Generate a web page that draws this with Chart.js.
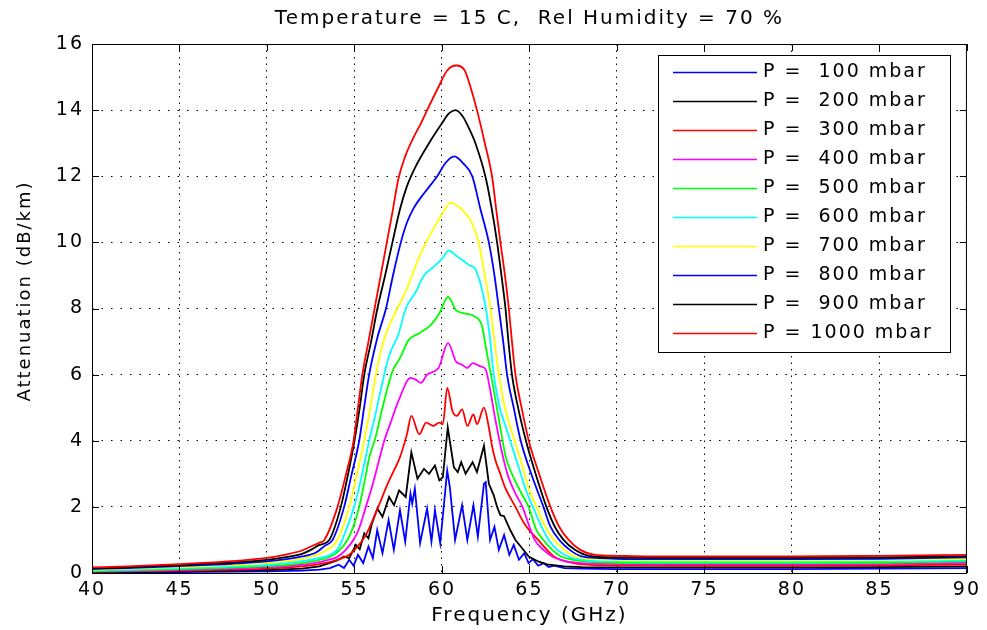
<!DOCTYPE html>
<html>
<head>
<meta charset="utf-8">
<script src="https://cdn.jsdelivr.net/npm/chart.js@4.4.1/dist/chart.umd.min.js"></script>
<style>
  html, body { margin: 0; padding: 0; background: #fff; }
</style>
</head>
<body>
<canvas id="attChart" width="987" height="630"></canvas>
<script>
// 标题与坐标轴文字
const chartTitle = 'Temperature = 15 C,  Rel Humidity = 70 %';
const xTitle = 'Frequency (GHz)';
const yTitle = 'Attenuation (dB/km)';

// 图例文字与颜色 (MATLAB 默认顺序)
const seriesLabels = ['P =  100 mbar', 'P =  200 mbar', 'P =  300 mbar', 'P =  400 mbar', 'P =  500 mbar',
                      'P =  600 mbar', 'P =  700 mbar', 'P =  800 mbar', 'P =  900 mbar', 'P = 1000 mbar'];
const seriesColors = ['#0000ff', '#000000', '#ff0000', '#ff00ff', '#00ff00',
                      '#00ffff', '#ffff00', '#0000ff', '#000000', '#ff0000'];

// 数据: [频率 GHz, 衰减 dB/km]
const p100 = [[40,0.02],[45,0.03],[50,0.05],[52,0.07],[53,0.1],[53.6,0.15],[54.1,0.25],[54.4,0.15],[54.7,0.4],[54.95,0.22],
  [55.2,0.55],[55.5,0.3],[55.8,0.8],[56.05,0.45],[56.3,1.3],[56.6,0.6],[56.95,1.6],[57.25,0.7],[57.6,1.9],[57.9,0.95],
  [58.2,2.4],[58.3,2.1],[58.45,2.55],[58.75,0.9],[59.15,1.95],[59.4,0.95],[59.6,1.9],[59.9,0.9],[60.3,3.1],[60.45,2.6],
  [60.75,1.0],[61.15,2.05],[61.45,1.0],[61.8,2.05],[62.05,1.1],[62.4,2.7],[62.5,2.75],[62.75,1.0],[63.0,1.4],[63.25,0.7],
  [63.55,1.15],[63.85,0.55],[64.1,0.85],[64.4,0.4],[64.7,0.6],[64.95,0.3],[65.2,0.42],[65.5,0.22],[65.8,0.3],[66.1,0.18],
  [66.4,0.22],[67,0.15],[68,0.13],[70,0.12],[75,0.12],[80,0.12],[85,0.13],[90,0.15]];
const p200 = [[40,0.03],[45,0.05],[48,0.07],[50,0.09],[52,0.13],[53,0.2],[53.56,0.3],[54,0.38],[54.4,0.5],[54.7,0.45],
  [55.08,0.85],[55.3,0.72],[55.56,1.2],[55.8,1.05],[56.0,1.5],[56.31,1.95],[56.6,1.7],[56.98,2.3],[57.26,2.05],[57.55,2.5],
  [57.93,2.3],[58.25,3.65],[58.6,2.85],[58.97,3.15],[59.26,3.0],[59.6,3.25],[59.85,2.8],[60.05,2.9],[60.33,4.4],[60.68,3.2],
  [60.9,3.05],[61.1,3.35],[61.35,3.0],[61.75,3.35],[62.0,3.05],[62.4,3.85],[62.68,2.7],[62.96,2.35],[63.15,2.0],[63.34,1.75],
  [63.55,1.72],[63.9,1.3],[64.2,1.0],[64.5,0.8],[64.96,0.5],[65.5,0.35],[66,0.26],[67,0.2],[68,0.18],[70,0.17],
  [75,0.17],[80,0.17],[85,0.18],[90,0.2]];
const p300 = [[40,0.04],[45,0.07],[48,0.1],[50,0.13],[51,0.16],[52,0.2],[53,0.27],[53.8,0.36],[54.3,0.45],[54.7,0.55],
  [55.1,0.75],[55.65,1.15],[56.0,1.55],[56.4,2.05],[56.9,2.7],[57.3,3.15],[57.6,3.5],[58.0,4.2],[58.25,4.75],[58.7,4.2],
  [59.1,4.55],[59.5,4.45],[59.85,4.55],[60.05,4.5],[60.3,5.6],[60.6,4.9],[60.85,4.75],[61.15,4.95],[61.45,4.45],[61.8,4.8],
  [62.0,4.5],[62.4,5.0],[62.68,4.4],[62.86,3.85],[63.06,3.4],[63.3,3.05],[63.6,2.6],[64.2,2.0],[64.7,1.5],[65.5,1.0],
  [66.4,0.5],[67.5,0.3],[68,0.26],[70,0.23],[75,0.22],[80,0.22],[85,0.23],[90,0.26]];
const p400 = [[40,0.05],[42,0.06],[45,0.09],[48,0.13],[50,0.17],[51,0.2],[52,0.25],[53,0.33],[53.5,0.4],[54,0.48],
  [54.5,0.7],[55,1.05],[55.3,1.4],[55.65,2.0],[56,2.6],[56.4,3.4],[56.7,4.0],[57,4.45],[57.55,5.25],[58.2,5.9],
  [58.5,5.85],[58.8,5.75],[59.15,6.0],[59.8,6.2],[60.35,6.95],[60.8,6.4],[61.15,6.3],[61.45,6.2],[61.75,6.35],[62.2,6.25],
  [62.5,6.15],[62.75,5.55],[63.05,4.65],[63.45,3.6],[63.8,2.9],[64.2,2.4],[64.6,2.0],[65,1.4],[65.3,1.0],[65.8,0.7],
  [66.3,0.5],[67,0.37],[68,0.3],[70,0.27],[72,0.26],[75,0.26],[80,0.26],[85,0.27],[90,0.31]];
const p500 = [[40,0.06],[42,0.08],[45,0.12],[48,0.16],[50,0.21],[51,0.24],[52,0.3],[53,0.4],[53.5,0.47],[54,0.62],
  [54.6,1.0],[55,1.5],[55.27,2.0],[55.55,2.7],[55.85,3.5],[56.2,4.1],[56.6,5.0],[57.17,6.1],[57.6,6.5],[58.1,7.05],
  [58.7,7.25],[59.35,7.5],[59.85,7.85],[60.35,8.35],[60.8,7.95],[61.3,7.85],[61.9,7.75],[62.3,7.45],[62.5,6.85],[62.85,5.85],
  [63.25,4.65],[63.65,3.5],[64,3.0],[64.5,2.45],[64.95,2.0],[65.4,1.3],[65.8,1.0],[66.3,0.7],[66.8,0.5],[67.5,0.4],
  [68,0.36],[70,0.31],[72,0.3],[75,0.3],[80,0.3],[85,0.31],[90,0.35]];
const p600 = [[40,0.08],[42,0.1],[45,0.15],[48,0.2],[50,0.25],[51,0.29],[52,0.36],[53,0.46],[53.5,0.52],[54,0.7],
  [54.3,1.0],[54.98,2.0],[55.4,2.9],[55.84,4.0],[56.2,4.8],[56.7,6.0],[57,6.6],[57.5,7.2],[57.93,8.0],[58.5,8.5],
  [58.97,9.0],[59.5,9.25],[60,9.5],[60.4,9.75],[60.8,9.6],[61.2,9.45],[61.6,9.3],[61.9,9.2],[62.4,8.3],[62.7,7.3],
  [62.96,6.0],[63.3,5.0],[63.6,4.5],[63.9,4.0],[64.5,3.0],[64.8,2.5],[65.2,2.0],[65.6,1.5],[66.1,1.0],[66.6,0.7],
  [67.2,0.5],[68,0.4],[70,0.35],[72,0.34],[75,0.34],[80,0.34],[85,0.35],[90,0.39]];
const p700 = [[40,0.1],[42,0.13],[45,0.18],[48,0.24],[50,0.3],[51,0.35],[52,0.43],[52.5,0.5],[53,0.58],[53.5,0.72],
  [54.03,1.0],[54.7,2.0],[55.1,2.9],[55.56,4.0],[55.9,5.0],[56.22,6.0],[56.6,6.9],[57,7.5],[57.45,8.0],[58,8.6],
  [58.5,9.3],[59,9.9],[59.5,10.4],[60,10.85],[60.5,11.2],[60.9,11.1],[61.3,10.9],[61.7,10.6],[62.1,10.0],[62.45,9.0],
  [62.77,8.0],[63.0,7.0],[63.25,6.0],[63.6,5.0],[64.15,4.0],[64.5,3.4],[65.0,2.5],[65.4,2.0],[65.9,1.4],[66.4,1.0],
  [67,0.7],[67.6,0.5],[68.5,0.43],[70,0.39],[72,0.38],[75,0.38],[80,0.38],[85,0.39],[90,0.43]];
const p800 = [[40,0.12],[42,0.15],[45,0.21],[48,0.28],[50,0.35],[51,0.41],[52,0.5],[52.8,0.62],[53.3,0.82],[53.75,1.0],
  [54.41,2.0],[54.8,2.9],[55.27,4.0],[55.55,5.0],[55.84,6.0],[56.3,7.1],[56.8,8.0],[57.2,9.0],[57.65,10.0],[58.0,10.6],
  [58.4,11.05],[59,11.5],[59.73,12.0],[60.2,12.4],[60.7,12.6],[61.2,12.4],[61.73,12.0],[62.2,11.0],[62.68,10.0],[63.0,9.0],
  [63.25,8.0],[63.5,7.0],[63.72,6.0],[64.1,5.0],[64.5,4.0],[65.1,3.0],[65.8,2.0],[66.2,1.4],[66.7,1.0],[67.3,0.7],
  [68,0.5],[69,0.45],[70,0.43],[72,0.42],[75,0.42],[80,0.42],[85,0.43],[90,0.47]];
const p900 = [[40,0.14],[42,0.17],[45,0.24],[48,0.32],[50,0.4],[51,0.47],[52,0.58],[52.51,0.7],[53,0.85],[53.56,1.0],
  [54.22,2.0],[54.6,2.9],[55.0,4.0],[55.3,5.0],[55.56,6.0],[55.95,7.0],[56.31,8.0],[56.75,9.0],[57.17,10.0],[57.6,11.0],
  [58.0,11.7],[58.5,12.3],[59.26,13.0],[60,13.6],[60.4,13.9],[60.78,14.0],[61.2,13.8],[61.5,13.5],[61.91,13.0],[62.48,12.0],
  [62.85,11.0],[63.15,10.0],[63.4,9.0],[63.63,8.0],[63.8,7.0],[64.0,6.0],[64.35,5.0],[64.8,4.0],[65.35,3.0],[65.97,2.0],
  [66.45,1.4],[66.95,1.0],[67.6,0.7],[68.4,0.52],[70,0.47],[72,0.46],[75,0.46],[80,0.46],[85,0.47],[90,0.51]];
const p1000 = [[40,0.17],[42,0.2],[45,0.27],[48,0.36],[50,0.46],[51,0.55],[52,0.68],[52.5,0.8],[53,0.92],[53.28,1.0],
  [54.03,2.0],[54.5,2.95],[54.95,4.0],[55.2,5.0],[55.45,6.0],[55.8,7.0],[56.15,8.0],[56.5,9.0],[56.85,10.0],[57.2,11.0],
  [57.5,11.9],[57.9,12.6],[58.4,13.2],[58.8,13.6],[59.2,14.05],[59.8,14.7],[60.3,15.2],[60.82,15.35],[61.3,15.2],[61.6,14.75],
  [62.0,14.0],[62.45,13.0],[62.86,12.0],[63.1,11.0],[63.34,10.0],[63.6,9.0],[63.82,8.0],[64.0,7.0],[64.2,6.0],[64.55,5.0],
  [64.96,4.0],[65.55,3.0],[66.2,2.0],[66.7,1.4],[67.24,1.0],[67.9,0.7],[68.75,0.55],[70,0.52],[72,0.5],[75,0.5],
  [80,0.5],[85,0.52],[90,0.55]];

const allSeries = [p100, p200, p300, p400, p500, p600, p700, p800, p900, p1000];

const fontFamily = '"DejaVu Sans", sans-serif';
const spacing = '2px';

// 边框、内刻度、纵轴标题和图例
const framePlugin = {
    id: 'framePlugin',
    beforeLayout(chart) { chart.ctx.letterSpacing = spacing; },
    beforeDraw(chart) { chart.ctx.letterSpacing = spacing; },
    afterDraw(chart) {
        const { ctx, chartArea: a, scales } = chart;
        ctx.save();
        ctx.strokeStyle = '#000';
        ctx.lineWidth = 1;
        ctx.strokeRect(a.left + 0.5, a.top + 0.5, a.right - a.left - 1, a.bottom - a.top);

        // 内侧刻度
        const t = 7;
        ctx.beginPath();
        scales.x.ticks.forEach(tk => {
            const px = Math.round(scales.x.getPixelForValue(tk.value)) + 0.5;
            ctx.moveTo(px, a.bottom); ctx.lineTo(px, a.bottom - t);
            ctx.moveTo(px, a.top); ctx.lineTo(px, a.top + t);
        });
        scales.y.ticks.forEach(tk => {
            const py = Math.round(scales.y.getPixelForValue(tk.value)) + 0.5;
            ctx.moveTo(a.left, py); ctx.lineTo(a.left + t, py);
            ctx.moveTo(a.right, py); ctx.lineTo(a.right - t, py);
        });
        ctx.stroke();

        // 纵轴标题
        ctx.save();
        ctx.translate(25, 291);
        ctx.rotate(-Math.PI / 2);
        ctx.font = '18px ' + fontFamily;
        ctx.fillStyle = '#000';
        ctx.textAlign = 'center';
        ctx.textBaseline = 'middle';
        ctx.fillText(yTitle, 0, 0);
        ctx.restore();

        // 图例
        const box = { left: 658, top: 55, width: 292, height: 297 };
        ctx.fillStyle = '#fff';
        ctx.fillRect(box.left, box.top, box.width, box.height);
        ctx.strokeRect(box.left + 0.5, box.top + 0.5, box.width, box.height);
        ctx.font = '19px ' + fontFamily;
        ctx.textBaseline = 'middle';
        ctx.textAlign = 'left';
        chart.data.datasets.forEach((ds, i) => {
            const y = 72.5 + 29 * i;
            ctx.strokeStyle = ds.borderColor;
            ctx.lineWidth = 1.6;
            ctx.beginPath();
            ctx.moveTo(673, y); ctx.lineTo(757, y);
            ctx.stroke();
            ctx.fillStyle = '#000';
            ctx.fillText(ds.label, 763, y);
        });
        ctx.restore();
    }
};

Chart.defaults.color = '#000';
Chart.defaults.font.family = fontFamily;

const ctx = document.getElementById('attChart').getContext('2d');

const datasets = allSeries.map((s, i) => ({
    label: seriesLabels[i],
    data: s.map(p => ({ x: p[0], y: p[1] })),
    borderColor: seriesColors[i],
    backgroundColor: seriesColors[i],
    borderWidth: 1.8,
    pointRadius: 0,
    // 高气压曲线较平滑
    cubicInterpolationMode: i >= 2 ? 'monotone' : 'default',
    tension: 0,
    fill: false,
    order: allSeries.length - i
}));

new Chart(ctx, {
    type: 'line',
    data: { datasets },
    options: {
        responsive: false,
        animation: false,
        layout: { padding: { left: 0, right: 18, top: 0, bottom: 0 } },
        scales: {
            x: {
                type: 'linear',
                min: 40,
                max: 90,
                ticks: { stepSize: 5, padding: 6, font: { size: 19 }, color: '#000' },
                grid: { color: '#000', lineWidth: 1, drawTicks: false },
                border: { display: false, dash: [1.5, 5] },
                title: { display: true, text: xTitle, font: { size: 20 }, color: '#000', padding: { top: 0, bottom: 2 } },
                afterFit(scale) { scale.height = 57; }
            },
            y: {
                min: 0,
                max: 16,
                ticks: { stepSize: 2, padding: 8, font: { size: 19 }, color: '#000' },
                grid: { color: '#000', lineWidth: 1, drawTicks: false },
                border: { display: false, dash: [1.5, 8] },
                title: { display: false },
                afterFit(scale) { scale.width = 92; }
            }
        },
        plugins: {
            legend: { display: false },
            tooltip: { enabled: false },
            title: {
                display: true,
                text: chartTitle,
                fullSize: false,
                color: '#000',
                font: { size: 20, weight: 'normal' },
                padding: { top: 7, bottom: 13 }
            }
        }
    },
    plugins: [framePlugin]
});
</script>
</body>
</html>
